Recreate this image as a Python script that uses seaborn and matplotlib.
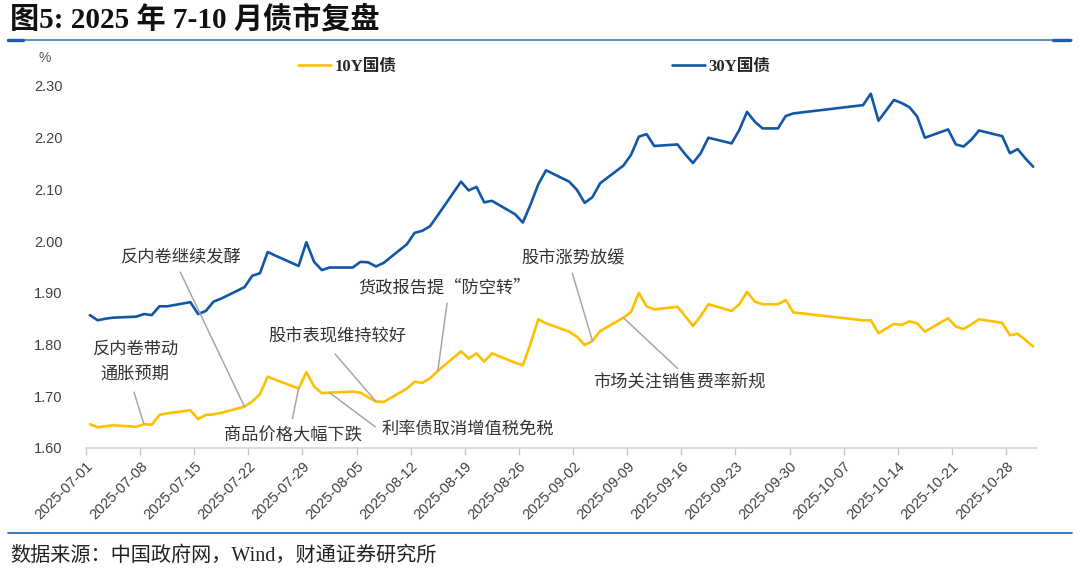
import pandas as pd
import matplotlib.pyplot as plt
import matplotlib.dates as mdates
from matplotlib.lines import Line2D
from matplotlib.font_manager import FontProperties
import seaborn as sns

# trading days and yields (%)
dates = [
    "2025-07-01", "2025-07-02", "2025-07-03", "2025-07-04", "2025-07-07", "2025-07-08",
    "2025-07-09", "2025-07-10", "2025-07-11", "2025-07-14", "2025-07-15", "2025-07-16",
    "2025-07-17", "2025-07-18", "2025-07-21", "2025-07-22", "2025-07-23", "2025-07-24",
    "2025-07-25", "2025-07-28", "2025-07-29", "2025-07-30", "2025-07-31", "2025-08-01",
    "2025-08-04", "2025-08-05", "2025-08-06", "2025-08-07", "2025-08-08", "2025-08-11",
    "2025-08-12", "2025-08-13", "2025-08-14", "2025-08-15", "2025-08-18", "2025-08-19",
    "2025-08-20", "2025-08-21", "2025-08-22", "2025-08-25", "2025-08-26", "2025-08-27",
    "2025-08-28", "2025-08-29", "2025-09-01", "2025-09-02", "2025-09-03", "2025-09-04",
    "2025-09-05", "2025-09-08", "2025-09-09", "2025-09-10", "2025-09-11", "2025-09-12",
    "2025-09-15", "2025-09-16", "2025-09-17", "2025-09-18", "2025-09-19", "2025-09-22",
    "2025-09-23", "2025-09-24", "2025-09-25", "2025-09-26", "2025-09-28", "2025-09-29",
    "2025-09-30", "2025-10-09", "2025-10-10", "2025-10-11", "2025-10-13", "2025-10-14",
    "2025-10-15", "2025-10-16", "2025-10-17", "2025-10-20", "2025-10-21", "2025-10-22",
    "2025-10-23", "2025-10-24", "2025-10-27", "2025-10-28", "2025-10-29", "2025-10-30",
    "2025-10-31",
]
y10 = [
    1.646, 1.640, 1.642, 1.644, 1.641, 1.646, 1.645, 1.664, 1.667, 1.673, 1.656, 1.664,
    1.665, 1.668, 1.680, 1.690, 1.704, 1.738, 1.732, 1.715, 1.747, 1.719, 1.706, 1.707,
    1.709, 1.707, 1.698, 1.690, 1.689, 1.715, 1.728, 1.726, 1.735, 1.749, 1.787, 1.773,
    1.783, 1.767, 1.783, 1.765, 1.760, 1.802, 1.849, 1.841, 1.825, 1.815, 1.799, 1.807,
    1.826, 1.852, 1.863, 1.900, 1.874, 1.868, 1.873, 1.855, 1.836, 1.855, 1.878, 1.865,
    1.878, 1.902, 1.883, 1.878, 1.878, 1.886, 1.862, 1.847, 1.847, 1.822, 1.840, 1.838,
    1.845, 1.841, 1.825, 1.851, 1.835, 1.830, 1.839, 1.849, 1.842, 1.818, 1.821, 1.809,
    1.796,
]
y30 = [
    1.857, 1.847, 1.850, 1.852, 1.854, 1.859, 1.857, 1.874, 1.874, 1.882, 1.859, 1.865,
    1.883, 1.889, 1.911, 1.933, 1.938, 1.979, 1.972, 1.952, 1.998, 1.960, 1.944, 1.949,
    1.949, 1.960, 1.959, 1.951, 1.958, 1.994, 2.016, 2.020, 2.029, 2.050, 2.115, 2.098,
    2.105, 2.075, 2.078, 2.052, 2.036, 2.071, 2.110, 2.137, 2.115, 2.099, 2.074, 2.085,
    2.112, 2.146, 2.167, 2.202, 2.207, 2.184, 2.187, 2.168, 2.151, 2.170, 2.200, 2.189,
    2.215, 2.250, 2.231, 2.218, 2.218, 2.242, 2.247, 2.263, 2.285, 2.233, 2.273, 2.267,
    2.259, 2.241, 2.200, 2.216, 2.187, 2.183, 2.196, 2.214, 2.203, 2.170, 2.178, 2.160,
    2.144,
]
series_names = ["10Y国债", "30Y国债"]
colors = ["#FFC000", "#1257A6"]
y_ticks = [1.60, 1.70, 1.80, 1.90, 2.00, 2.10, 2.20, 2.30]

# event notes: text, date of the 10Y point it marks
notes = [
    "反内卷带动\n通胀预期",
    "反内卷继续发酵",
    "商品价格大幅下跌",
    "股市表现维持较好",
    "利率债取消增值税免税",
    "货政报告提“防空转”",
    "股市涨势放缓",
    "市场关注销售费率新规",
]
note_dates = ["2025-07-08", "2025-07-21", "2025-07-28", "2025-08-07",
              "2025-08-01", "2025-08-15", "2025-09-04", "2025-09-08"]
# layout: text centre (days from Jul 1, value) and leader start
note_text_pos = [(6.3, 1.768), (12.2, 1.971), (26.8, 1.625), (32.5, 1.815),
                 (49.4, 1.638), (46.4, 1.911), (63.0, 1.967), (76.7, 1.726)]
note_line_pos = [(6.2, 1.708), (12.2, 1.940), (26.7, 1.657), (32.2, 1.782),
                 (37.4, 1.641), (46.7, 1.880), (62.9, 1.938), (76.5, 1.754)]

start = pd.Timestamp("2025-07-01")
t = pd.to_datetime(dates) + pd.Timedelta(hours=12)
df = pd.DataFrame({
    "t": list(t) * 2,
    "value": y10 + y30,
    "series": [series_names[0]] * len(dates) + [series_names[1]] * len(dates),
})

sns.set_theme(style="white")
cjk = ["Noto Sans CJK SC", "DejaVu Sans"]
serif_cjk = ["Liberation Serif", "Noto Sans CJK SC"]
plt.rcParams["font.family"] = cjk

fig = plt.figure(figsize=(10.8, 5.76), dpi=100)
ax = fig.add_axes([86 / 1080, 1 - 448 / 576, (1037 - 86) / 1080, (448 - 86) / 576])

sns.lineplot(data=df, x="t", y="value", hue="series", palette=colors,
             linewidth=1.9, estimator=None, legend=False, ax=ax)

ax.set_xlim(start, pd.Timestamp("2025-11-01"))
ax.set_ylim(1.60, 2.30)
ax.set_xlabel("")
ax.set_ylabel("")

xt = pd.date_range("2025-07-01", "2025-10-28", freq="7D")
ax.set_xticks(xt)
ax.set_xticklabels([d.strftime("%Y-%m-%d") for d in xt], rotation=45, ha="right",
                   rotation_mode="anchor", fontsize=10.5, family="Liberation Sans",
                   color="#404040")
ax.set_yticks(y_ticks)
ax.set_yticklabels([f"{v:.2f}" for v in y_ticks], fontsize=10.5,
                   family="Liberation Sans", color="#404040")
ax.tick_params(axis="x", direction="out", length=5, width=1, color="#C8C8C8", pad=3,
               bottom=True)
ax.tick_params(axis="y", length=0, pad=17)
for s in ["left", "top", "right"]:
    ax.spines[s].set_visible(False)
ax.spines["bottom"].set_color("#D9D9D9")
ax.spines["bottom"].set_linewidth(1.3)
ax.grid(False)

# event notes with grey leader lines
for text, nd, tp, lp in zip(notes, note_dates, note_text_pos, note_line_pos):
    i = dates.index(nd)
    px = mdates.date2num(t[i])
    lx = mdates.date2num(start + pd.Timedelta(days=lp[0]))
    tx = mdates.date2num(start + pd.Timedelta(days=tp[0]))
    ax.annotate("", xy=(px, y10[i]), xytext=(lx, lp[1]),
                arrowprops=dict(arrowstyle="-", color="#A6A6A6", lw=1.1,
                                shrinkA=0, shrinkB=0))
    ax.text(tx, tp[1], text, ha="center", va="center", fontsize=12.4,
            color="#333333", linespacing=1.5)

handles = [Line2D([], [], color=c, lw=1.9) for c in colors]
ax.legend(handles, series_names, loc="center left",
          bbox_to_anchor=(298 / 1080, 1 - 67 / 576), bbox_transform=fig.transFigure,
          ncol=2, frameon=False, handlelength=2.0, handletextpad=0.2,
          columnspacing=16.5, borderpad=0, borderaxespad=0,
          prop=FontProperties(family=serif_cjk, weight="bold", size=12))

fig.text(45 / 1080, 1 - 58 / 576, "%", fontsize=10, color="#595959",
         family="Liberation Sans", ha="center", va="center")

# title, rules and source
fig.text(10 / 1080, 1 - 19 / 576, "图5: 2025 年 7-10 月债市复盘", fontsize=21,
         fontweight="bold", family=serif_cjk, va="center", color="#111111")
fig.add_artist(Line2D([8 / 1080, 1072 / 1080], [1 - 40 / 576] * 2,
                      color="#2E6DB4", lw=1.1))
fig.add_artist(Line2D([8 / 1080, 23 / 1080], [1 - 40 / 576] * 2,
                      color="#1F5BA6", lw=2.4))
fig.add_artist(Line2D([1053 / 1080, 1070 / 1080], [1 - 40 / 576] * 2,
                      color="#1F5BA6", lw=2.4))
fig.add_artist(Line2D([8 / 1080, 1072 / 1080], [1 - 533 / 576] * 2,
                      color="#2E6DB4", lw=1.3))
fig.text(10 / 1080, 1 - 556 / 576, "数据来源：中国政府网，Wind，财通证券研究所",
         fontsize=14.5, family=serif_cjk, va="center", color="#222222")

fig.savefig("out.png", dpi=100)
